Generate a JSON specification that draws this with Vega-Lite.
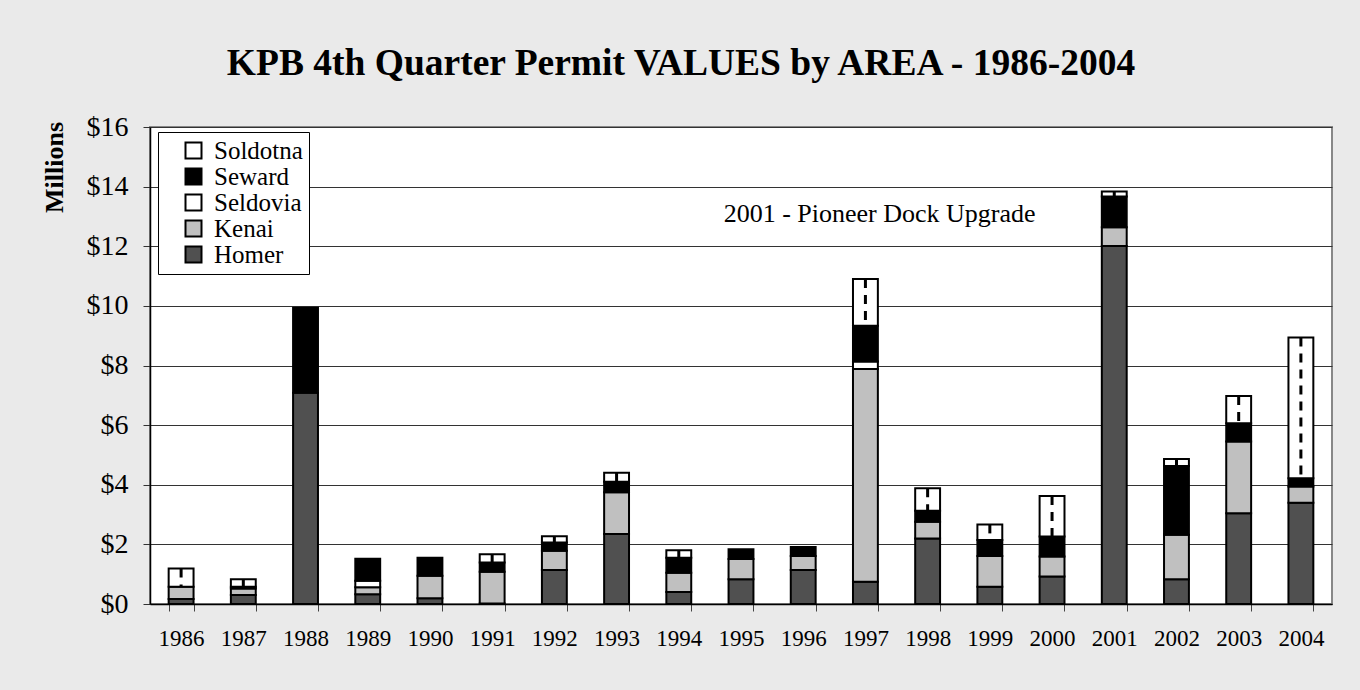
{
  "$schema": "https://vega.github.io/schema/vega-lite/v6.json",
  "width": 1182,
  "height": 477,
  "autosize": {"type": "none"},
  "padding": {"left": 150, "top": 127, "right": 28, "bottom": 86},
  "background": "#eaeaea",
  "title": {
    "text": "KPB 4th Quarter Permit VALUES by AREA - 1986-2004",
    "font": "Liberation Serif",
    "fontSize": 37.5,
    "fontWeight": "bold",
    "color": "black",
    "anchor": "middle",
    "frame": "group",
    "baseline": "alphabetic",
    "dx": -60,
    "offset": 1
  },
  "config": {
    "font": "Liberation Serif",
    "view": {"fill": "white", "stroke": "#888888", "strokeWidth": 2}
  },
  "data": {
    "values": [
      {"year": "1986", "area": "Homer", "value": 0.17},
      {"year": "1986", "area": "Kenai", "value": 0.41},
      {"year": "1986", "area": "Seldovia", "value": 0},
      {"year": "1986", "area": "Seward", "value": 0},
      {"year": "1986", "area": "Soldotna", "value": 0.61},
      {"year": "1987", "area": "Homer", "value": 0.3},
      {"year": "1987", "area": "Kenai", "value": 0.22},
      {"year": "1987", "area": "Seldovia", "value": 0.06},
      {"year": "1987", "area": "Seward", "value": 0},
      {"year": "1987", "area": "Soldotna", "value": 0.25},
      {"year": "1988", "area": "Homer", "value": 7.09},
      {"year": "1988", "area": "Kenai", "value": 0},
      {"year": "1988", "area": "Seldovia", "value": 0},
      {"year": "1988", "area": "Seward", "value": 2.85},
      {"year": "1988", "area": "Soldotna", "value": 0},
      {"year": "1989", "area": "Homer", "value": 0.33},
      {"year": "1989", "area": "Kenai", "value": 0.23},
      {"year": "1989", "area": "Seldovia", "value": 0.22},
      {"year": "1989", "area": "Seward", "value": 0.74},
      {"year": "1989", "area": "Soldotna", "value": 0},
      {"year": "1990", "area": "Homer", "value": 0.19},
      {"year": "1990", "area": "Kenai", "value": 0.76},
      {"year": "1990", "area": "Seldovia", "value": 0},
      {"year": "1990", "area": "Seward", "value": 0.6},
      {"year": "1990", "area": "Soldotna", "value": 0},
      {"year": "1991", "area": "Homer", "value": 0.02},
      {"year": "1991", "area": "Kenai", "value": 1.06},
      {"year": "1991", "area": "Seldovia", "value": 0},
      {"year": "1991", "area": "Seward", "value": 0.31},
      {"year": "1991", "area": "Soldotna", "value": 0.28},
      {"year": "1992", "area": "Homer", "value": 1.14},
      {"year": "1992", "area": "Kenai", "value": 0.65},
      {"year": "1992", "area": "Seldovia", "value": 0},
      {"year": "1992", "area": "Seward", "value": 0.27},
      {"year": "1992", "area": "Soldotna", "value": 0.21},
      {"year": "1993", "area": "Homer", "value": 2.35},
      {"year": "1993", "area": "Kenai", "value": 1.4},
      {"year": "1993", "area": "Seldovia", "value": 0},
      {"year": "1993", "area": "Seward", "value": 0.35},
      {"year": "1993", "area": "Soldotna", "value": 0.3},
      {"year": "1994", "area": "Homer", "value": 0.4},
      {"year": "1994", "area": "Kenai", "value": 0.65},
      {"year": "1994", "area": "Seldovia", "value": 0},
      {"year": "1994", "area": "Seward", "value": 0.5},
      {"year": "1994", "area": "Soldotna", "value": 0.25},
      {"year": "1995", "area": "Homer", "value": 0.83},
      {"year": "1995", "area": "Kenai", "value": 0.68},
      {"year": "1995", "area": "Seldovia", "value": 0},
      {"year": "1995", "area": "Seward", "value": 0.33},
      {"year": "1995", "area": "Soldotna", "value": 0},
      {"year": "1996", "area": "Homer", "value": 1.14},
      {"year": "1996", "area": "Kenai", "value": 0.47},
      {"year": "1996", "area": "Seldovia", "value": 0},
      {"year": "1996", "area": "Seward", "value": 0.3},
      {"year": "1996", "area": "Soldotna", "value": 0},
      {"year": "1997", "area": "Homer", "value": 0.75},
      {"year": "1997", "area": "Kenai", "value": 7.13},
      {"year": "1997", "area": "Seldovia", "value": 0.25},
      {"year": "1997", "area": "Seward", "value": 1.2},
      {"year": "1997", "area": "Soldotna", "value": 1.57},
      {"year": "1998", "area": "Homer", "value": 2.2},
      {"year": "1998", "area": "Kenai", "value": 0.56},
      {"year": "1998", "area": "Seldovia", "value": 0},
      {"year": "1998", "area": "Seward", "value": 0.37},
      {"year": "1998", "area": "Soldotna", "value": 0.75},
      {"year": "1999", "area": "Homer", "value": 0.58},
      {"year": "1999", "area": "Kenai", "value": 1.03},
      {"year": "1999", "area": "Seldovia", "value": 0},
      {"year": "1999", "area": "Seward", "value": 0.54},
      {"year": "1999", "area": "Soldotna", "value": 0.52},
      {"year": "2000", "area": "Homer", "value": 0.92},
      {"year": "2000", "area": "Kenai", "value": 0.67},
      {"year": "2000", "area": "Seldovia", "value": 0},
      {"year": "2000", "area": "Seward", "value": 0.67},
      {"year": "2000", "area": "Soldotna", "value": 1.36},
      {"year": "2001", "area": "Homer", "value": 12.01},
      {"year": "2001", "area": "Kenai", "value": 0.63},
      {"year": "2001", "area": "Seldovia", "value": 0},
      {"year": "2001", "area": "Seward", "value": 1.03},
      {"year": "2001", "area": "Soldotna", "value": 0.17},
      {"year": "2002", "area": "Homer", "value": 0.83},
      {"year": "2002", "area": "Kenai", "value": 1.49},
      {"year": "2002", "area": "Seldovia", "value": 0},
      {"year": "2002", "area": "Seward", "value": 2.31},
      {"year": "2002", "area": "Soldotna", "value": 0.23},
      {"year": "2003", "area": "Homer", "value": 3.04},
      {"year": "2003", "area": "Kenai", "value": 2.41},
      {"year": "2003", "area": "Seldovia", "value": 0},
      {"year": "2003", "area": "Seward", "value": 0.61},
      {"year": "2003", "area": "Soldotna", "value": 0.92},
      {"year": "2004", "area": "Homer", "value": 3.4},
      {"year": "2004", "area": "Kenai", "value": 0.54},
      {"year": "2004", "area": "Seldovia", "value": 0},
      {"year": "2004", "area": "Seward", "value": 0.28},
      {"year": "2004", "area": "Soldotna", "value": 4.72}
    ]
  },
  "layer": [
    {
      "transform": [{"filter": "datum.value > 0"}],
      "mark": {"type": "bar", "stroke": "black", "strokeWidth": 2},
      "encoding": {
        "x": {
          "field": "year",
          "type": "ordinal",
          "scale": {"paddingInner": 0.6, "paddingOuter": 0.3},
          "axis": {
            "title": null,
            "labelAngle": 0,
            "labelFont": "Liberation Serif",
            "labelFontSize": 23,
            "labelColor": "black",
            "labelPadding": 16,
            "tickBand": "extent",
            "tickSize": 7,
            "tickColor": "#444444",
            "domainColor": "black",
            "domainWidth": 1.5,
            "grid": false
          }
        },
        "y": {
          "field": "value",
          "type": "quantitative",
          "stack": "zero",
          "title": "Millions",
          "scale": {"domain": [0, 16], "nice": false},
          "axis": {
            "values": [0, 2, 4, 6, 8, 10, 12, 14, 16],
            "format": "$.0f",
            "labelFont": "Liberation Serif",
            "labelFontSize": 28,
            "labelColor": "black",
            "labelPadding": 15,
            "tickSize": 7,
            "tickColor": "#333333",
            "domainColor": "black",
            "domainWidth": 1.5,
            "grid": true,
            "gridColor": "#333333",
            "gridWidth": 1,
            "titleFont": "Liberation Serif",
            "titleFontSize": 26,
            "titleFontWeight": "bold",
            "titleColor": "black",
            "titleAngle": -90,
            "titleAlign": "center",
            "titleBaseline": "middle",
            "titleX": -96,
            "titleY": 40
          }
        },
        "color": {
          "field": "area",
          "type": "nominal",
          "scale": {
            "domain": ["Soldotna", "Seward", "Seldovia", "Kenai", "Homer"],
            "range": ["#ffffff", "#000000", "#ffffff", "#c0c0c0", "#505050"]
          },
          "legend": {
            "title": null,
            "orient": "none",
            "legendX": 8,
            "legendY": 5,
            "fillColor": "white",
            "strokeColor": "black",
            "padding": 6,
            "symbolType": "square",
            "symbolSize": 256,
            "symbolStrokeColor": "black",
            "symbolStrokeWidth": 2,
            "symbolOffset": 17,
            "labelFont": "Liberation Serif",
            "labelFontSize": 25,
            "labelColor": "black",
            "labelOffset": 8,
            "rowPadding": 0,
            "labelLimit": 250
          }
        },
        "order": {"field": "area", "sort": "ascending"}
      }
    },
    {
      "transform": [
        {"stack": "value", "groupby": ["year"], "sort": [{"field": "area", "order": "ascending"}], "as": ["v0", "v1"]},
        {"filter": "datum.area === 'Soldotna' && datum.value > 0"}
      ],
      "mark": {"type": "rule", "stroke": "black", "strokeWidth": 3, "strokeDash": [9, 7]},
      "encoding": {
        "x": {"field": "year", "type": "ordinal"},
        "y": {"field": "v1", "type": "quantitative", "title": "Millions"},
        "y2": {"field": "v0"}
      }
    },
    {
      "data": {"values": [{"label": "2001 - Pioneer Dock Upgrade"}]},
      "mark": {"type": "text", "font": "Liberation Serif", "fontSize": 26, "align": "center", "baseline": "alphabetic", "dx": -48, "color": "black"},
      "encoding": {
        "x": {"datum": "1998", "type": "ordinal"},
        "y": {"datum": 12.82, "type": "quantitative"},
        "text": {"field": "label"}
      }
    }
  ]
}
